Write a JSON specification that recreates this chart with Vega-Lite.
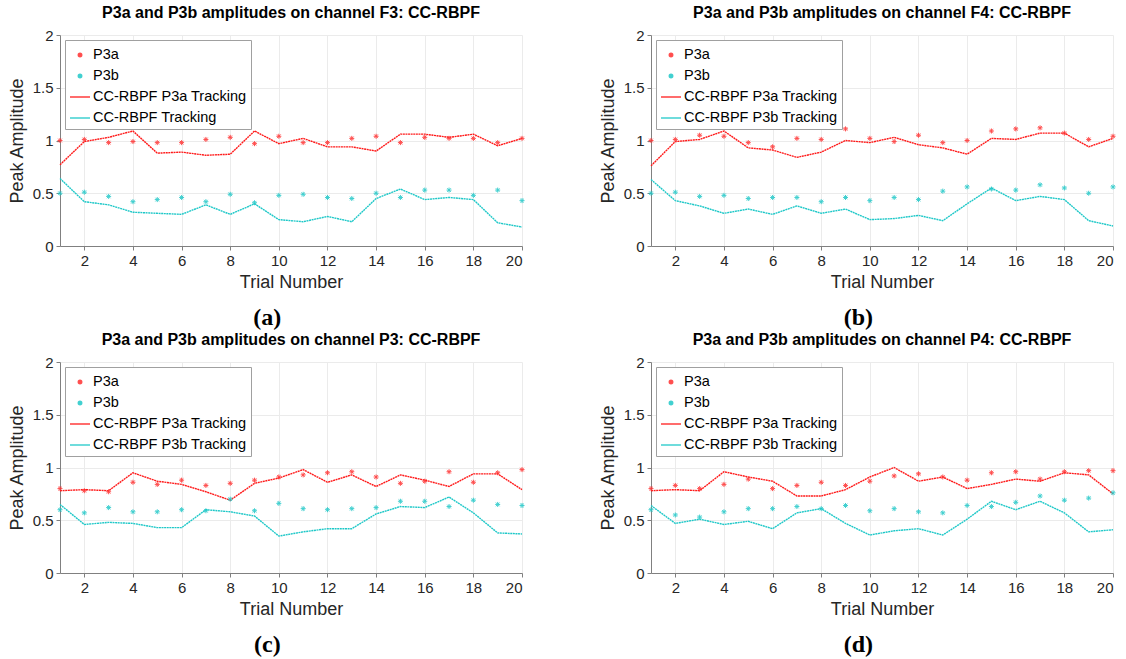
{
  "$schema": "https://vega.github.io/schema/vega-lite/v6.json",
  "background": "white",
  "padding": {"left": 8, "top": 5, "right": 5, "bottom": 5},
  "data": {"values": [
    {"panel":"a","trial":1,"pa":1.00,"pb":0.50,"ta":0.77,"tb":0.64},
    {"panel":"a","trial":2,"pa":1.01,"pb":0.51,"ta":0.99,"tb":0.42},
    {"panel":"a","trial":3,"pa":0.98,"pb":0.47,"ta":1.03,"tb":0.39},
    {"panel":"a","trial":4,"pa":0.99,"pb":0.42,"ta":1.09,"tb":0.32},
    {"panel":"a","trial":5,"pa":0.98,"pb":0.44,"ta":0.88,"tb":0.31},
    {"panel":"a","trial":6,"pa":0.98,"pb":0.46,"ta":0.89,"tb":0.30},
    {"panel":"a","trial":7,"pa":1.01,"pb":0.42,"ta":0.86,"tb":0.39},
    {"panel":"a","trial":8,"pa":1.03,"pb":0.49,"ta":0.87,"tb":0.30},
    {"panel":"a","trial":9,"pa":0.97,"pb":0.41,"ta":1.09,"tb":0.40},
    {"panel":"a","trial":10,"pa":1.04,"pb":0.48,"ta":0.97,"tb":0.25},
    {"panel":"a","trial":11,"pa":0.98,"pb":0.49,"ta":1.02,"tb":0.23},
    {"panel":"a","trial":12,"pa":0.98,"pb":0.46,"ta":0.94,"tb":0.28},
    {"panel":"a","trial":13,"pa":1.02,"pb":0.45,"ta":0.94,"tb":0.23},
    {"panel":"a","trial":14,"pa":1.04,"pb":0.50,"ta":0.90,"tb":0.45},
    {"panel":"a","trial":15,"pa":0.98,"pb":0.46,"ta":1.06,"tb":0.54},
    {"panel":"a","trial":16,"pa":1.03,"pb":0.53,"ta":1.06,"tb":0.44},
    {"panel":"a","trial":17,"pa":1.02,"pb":0.53,"ta":1.03,"tb":0.46},
    {"panel":"a","trial":18,"pa":1.02,"pb":0.48,"ta":1.06,"tb":0.44},
    {"panel":"a","trial":19,"pa":0.98,"pb":0.53,"ta":0.95,"tb":0.22},
    {"panel":"a","trial":20,"pa":1.02,"pb":0.43,"ta":1.02,"tb":0.18},
    {"panel":"b","trial":1,"pa":1.00,"pb":0.50,"ta":0.76,"tb":0.63},
    {"panel":"b","trial":2,"pa":1.01,"pb":0.51,"ta":0.99,"tb":0.43},
    {"panel":"b","trial":3,"pa":1.05,"pb":0.47,"ta":1.01,"tb":0.38},
    {"panel":"b","trial":4,"pa":1.04,"pb":0.48,"ta":1.09,"tb":0.31},
    {"panel":"b","trial":5,"pa":0.98,"pb":0.45,"ta":0.93,"tb":0.35},
    {"panel":"b","trial":6,"pa":0.94,"pb":0.46,"ta":0.91,"tb":0.30},
    {"panel":"b","trial":7,"pa":1.02,"pb":0.46,"ta":0.84,"tb":0.38},
    {"panel":"b","trial":8,"pa":1.01,"pb":0.42,"ta":0.89,"tb":0.31},
    {"panel":"b","trial":9,"pa":1.11,"pb":0.46,"ta":1.00,"tb":0.35},
    {"panel":"b","trial":10,"pa":1.02,"pb":0.43,"ta":0.98,"tb":0.25},
    {"panel":"b","trial":11,"pa":0.99,"pb":0.46,"ta":1.03,"tb":0.26},
    {"panel":"b","trial":12,"pa":1.05,"pb":0.44,"ta":0.96,"tb":0.29},
    {"panel":"b","trial":13,"pa":0.98,"pb":0.52,"ta":0.93,"tb":0.24},
    {"panel":"b","trial":14,"pa":1.00,"pb":0.56,"ta":0.87,"tb":0.40},
    {"panel":"b","trial":15,"pa":1.09,"pb":0.54,"ta":1.02,"tb":0.55},
    {"panel":"b","trial":16,"pa":1.11,"pb":0.53,"ta":1.01,"tb":0.43},
    {"panel":"b","trial":17,"pa":1.12,"pb":0.58,"ta":1.07,"tb":0.47},
    {"panel":"b","trial":18,"pa":1.07,"pb":0.55,"ta":1.07,"tb":0.44},
    {"panel":"b","trial":19,"pa":1.01,"pb":0.50,"ta":0.94,"tb":0.24},
    {"panel":"b","trial":20,"pa":1.04,"pb":0.56,"ta":1.02,"tb":0.19},
    {"panel":"c","trial":1,"pa":0.80,"pb":0.60,"ta":0.78,"tb":0.65},
    {"panel":"c","trial":2,"pa":0.78,"pb":0.57,"ta":0.79,"tb":0.46},
    {"panel":"c","trial":3,"pa":0.77,"pb":0.62,"ta":0.78,"tb":0.48},
    {"panel":"c","trial":4,"pa":0.86,"pb":0.58,"ta":0.95,"tb":0.47},
    {"panel":"c","trial":5,"pa":0.84,"pb":0.58,"ta":0.87,"tb":0.43},
    {"panel":"c","trial":6,"pa":0.88,"pb":0.60,"ta":0.84,"tb":0.43},
    {"panel":"c","trial":7,"pa":0.83,"pb":0.59,"ta":0.77,"tb":0.60},
    {"panel":"c","trial":8,"pa":0.85,"pb":0.70,"ta":0.69,"tb":0.58},
    {"panel":"c","trial":9,"pa":0.88,"pb":0.59,"ta":0.85,"tb":0.54},
    {"panel":"c","trial":10,"pa":0.91,"pb":0.66,"ta":0.90,"tb":0.35},
    {"panel":"c","trial":11,"pa":0.93,"pb":0.61,"ta":0.98,"tb":0.39},
    {"panel":"c","trial":12,"pa":0.95,"pb":0.60,"ta":0.86,"tb":0.42},
    {"panel":"c","trial":13,"pa":0.96,"pb":0.61,"ta":0.93,"tb":0.42},
    {"panel":"c","trial":14,"pa":0.91,"pb":0.62,"ta":0.82,"tb":0.56},
    {"panel":"c","trial":15,"pa":0.85,"pb":0.68,"ta":0.93,"tb":0.63},
    {"panel":"c","trial":16,"pa":0.87,"pb":0.68,"ta":0.88,"tb":0.62},
    {"panel":"c","trial":17,"pa":0.96,"pb":0.63,"ta":0.82,"tb":0.72},
    {"panel":"c","trial":18,"pa":0.86,"pb":0.69,"ta":0.94,"tb":0.57},
    {"panel":"c","trial":19,"pa":0.95,"pb":0.65,"ta":0.94,"tb":0.38},
    {"panel":"c","trial":20,"pa":0.98,"pb":0.64,"ta":0.79,"tb":0.37},
    {"panel":"d","trial":1,"pa":0.80,"pb":0.60,"ta":0.78,"tb":0.64},
    {"panel":"d","trial":2,"pa":0.83,"pb":0.55,"ta":0.79,"tb":0.47},
    {"panel":"d","trial":3,"pa":0.80,"pb":0.53,"ta":0.78,"tb":0.51},
    {"panel":"d","trial":4,"pa":0.84,"pb":0.58,"ta":0.96,"tb":0.46},
    {"panel":"d","trial":5,"pa":0.89,"pb":0.61,"ta":0.91,"tb":0.49},
    {"panel":"d","trial":6,"pa":0.80,"pb":0.61,"ta":0.87,"tb":0.42},
    {"panel":"d","trial":7,"pa":0.83,"pb":0.63,"ta":0.73,"tb":0.57},
    {"panel":"d","trial":8,"pa":0.86,"pb":0.61,"ta":0.73,"tb":0.61},
    {"panel":"d","trial":9,"pa":0.83,"pb":0.64,"ta":0.79,"tb":0.47},
    {"panel":"d","trial":10,"pa":0.87,"pb":0.59,"ta":0.91,"tb":0.36},
    {"panel":"d","trial":11,"pa":0.92,"pb":0.61,"ta":1.00,"tb":0.40},
    {"panel":"d","trial":12,"pa":0.94,"pb":0.58,"ta":0.87,"tb":0.42},
    {"panel":"d","trial":13,"pa":0.91,"pb":0.57,"ta":0.91,"tb":0.36},
    {"panel":"d","trial":14,"pa":0.88,"pb":0.64,"ta":0.80,"tb":0.51},
    {"panel":"d","trial":15,"pa":0.95,"pb":0.63,"ta":0.84,"tb":0.68},
    {"panel":"d","trial":16,"pa":0.96,"pb":0.67,"ta":0.89,"tb":0.60},
    {"panel":"d","trial":17,"pa":0.89,"pb":0.73,"ta":0.87,"tb":0.68},
    {"panel":"d","trial":18,"pa":0.96,"pb":0.69,"ta":0.95,"tb":0.57},
    {"panel":"d","trial":19,"pa":0.97,"pb":0.71,"ta":0.93,"tb":0.39},
    {"panel":"d","trial":20,"pa":0.97,"pb":0.76,"ta":0.75,"tb":0.41}
  ]},
  "spacing": 2,
  "resolve": {"scale": {"color": "independent", "shape": "independent"}, "legend": {"color": "independent", "shape": "independent"}},
  "vconcat": [
    {
      "spacing": 72,
      "resolve": {"scale": {"color": "independent", "shape": "independent"}, "legend": {"color": "independent", "shape": "independent"}},
      "hconcat": [
        {
          "title": {"text": "(a)", "orient": "bottom", "font": "Liberation Serif", "fontSize": 24, "fontWeight": "bold", "color": "black", "offset": 15},
          "vconcat": [{
            "width": 462, "height": 211,
            "title": "P3a and P3b amplitudes on channel F3: CC-RBPF",
            "transform": [{"filter": "datum.panel === 'a'"}, {"fold": ["pa", "pb", "ta", "tb"], "as": ["series", "value"]}],
            "encoding": {
              "x": {"field": "trial", "type": "quantitative", "scale": {"domain": [1, 20], "nice": false, "zero": false}, "axis": {"values": [2,4,6,8,10,12,14,16,18,20], "title": "Trial Number"}},
              "y": {"field": "value", "type": "quantitative", "scale": {"domain": [0, 2], "nice": false}, "axis": {"values": [0,0.5,1,1.5,2], "format": "~g", "title": "Peak Amplitude"}},
              "color": {"field": "series", "type": "nominal", "scale": {"domain": ["pa","pb","ta","tb"], "range": ["#ff3030","#20c8c8","#ff1a1a","#1ec8c8"]},
                "legend": {"labelExpr": "({'pa':'P3a','pb':'P3b','ta':'CC-RBPF P3a Tracking','tb':'CC-RBPF Tracking'})[datum.label]"}}
            },
            "layer": [
              {"transform": [{"filter": "datum.series === 'ta' || datum.series === 'tb'"}], "mark": {"type": "line", "strokeWidth": 1.4, "strokeDash": [2, 0.6]}},
              {"transform": [{"filter": "datum.series === 'pa' || datum.series === 'pb'"}], "mark": {"type": "point", "filled": false, "size": 400, "strokeWidth": 1, "opacity": 0.85},
                "encoding": {"shape": {"field": "series", "type": "nominal", "scale": {"domain": ["pa","pb","ta","tb"], "range": ["M-0.25,0L0.25,0M0,-0.25L0,0.25M-0.18,-0.18L0.18,0.18M-0.18,0.18L0.18,-0.18","M-0.25,0L0.25,0M0,-0.25L0,0.25M-0.18,-0.18L0.18,0.18M-0.18,0.18L0.18,-0.18","stroke","stroke"]}}}}
            ]
          }]
        },
        {
          "title": {"text": "(b)", "orient": "bottom", "font": "Liberation Serif", "fontSize": 24, "fontWeight": "bold", "color": "black", "offset": 15},
          "vconcat": [{
            "width": 462, "height": 211,
            "title": "P3a and P3b amplitudes on channel F4: CC-RBPF",
            "transform": [{"filter": "datum.panel === 'b'"}, {"fold": ["pa", "pb", "ta", "tb"], "as": ["series", "value"]}],
            "encoding": {
              "x": {"field": "trial", "type": "quantitative", "scale": {"domain": [1, 20], "nice": false, "zero": false}, "axis": {"values": [2,4,6,8,10,12,14,16,18,20], "title": "Trial Number"}},
              "y": {"field": "value", "type": "quantitative", "scale": {"domain": [0, 2], "nice": false}, "axis": {"values": [0,0.5,1,1.5,2], "format": "~g", "title": "Peak Amplitude"}},
              "color": {"field": "series", "type": "nominal", "scale": {"domain": ["pa","pb","ta","tb"], "range": ["#ff3030","#20c8c8","#ff1a1a","#1ec8c8"]},
                "legend": {"labelExpr": "({'pa':'P3a','pb':'P3b','ta':'CC-RBPF P3a Tracking','tb':'CC-RBPF P3b Tracking'})[datum.label]"}}
            },
            "layer": [
              {"transform": [{"filter": "datum.series === 'ta' || datum.series === 'tb'"}], "mark": {"type": "line", "strokeWidth": 1.4, "strokeDash": [2, 0.6]}},
              {"transform": [{"filter": "datum.series === 'pa' || datum.series === 'pb'"}], "mark": {"type": "point", "filled": false, "size": 400, "strokeWidth": 1, "opacity": 0.85},
                "encoding": {"shape": {"field": "series", "type": "nominal", "scale": {"domain": ["pa","pb","ta","tb"], "range": ["M-0.25,0L0.25,0M0,-0.25L0,0.25M-0.18,-0.18L0.18,0.18M-0.18,0.18L0.18,-0.18","M-0.25,0L0.25,0M0,-0.25L0,0.25M-0.18,-0.18L0.18,0.18M-0.18,0.18L0.18,-0.18","stroke","stroke"]}}}}
            ]
          }]
        }
      ]
    },
    {
      "spacing": 72,
      "resolve": {"scale": {"color": "independent", "shape": "independent"}, "legend": {"color": "independent", "shape": "independent"}},
      "hconcat": [
        {
          "title": {"text": "(c)", "orient": "bottom", "font": "Liberation Serif", "fontSize": 24, "fontWeight": "bold", "color": "black", "offset": 15},
          "vconcat": [{
            "width": 462, "height": 211,
            "title": "P3a and P3b amplitudes on channel P3: CC-RBPF",
            "transform": [{"filter": "datum.panel === 'c'"}, {"fold": ["pa", "pb", "ta", "tb"], "as": ["series", "value"]}],
            "encoding": {
              "x": {"field": "trial", "type": "quantitative", "scale": {"domain": [1, 20], "nice": false, "zero": false}, "axis": {"values": [2,4,6,8,10,12,14,16,18,20], "title": "Trial Number"}},
              "y": {"field": "value", "type": "quantitative", "scale": {"domain": [0, 2], "nice": false}, "axis": {"values": [0,0.5,1,1.5,2], "format": "~g", "title": "Peak Amplitude"}},
              "color": {"field": "series", "type": "nominal", "scale": {"domain": ["pa","pb","ta","tb"], "range": ["#ff3030","#20c8c8","#ff1a1a","#1ec8c8"]},
                "legend": {"labelExpr": "({'pa':'P3a','pb':'P3b','ta':'CC-RBPF P3a Tracking','tb':'CC-RBPF P3b Tracking'})[datum.label]"}}
            },
            "layer": [
              {"transform": [{"filter": "datum.series === 'ta' || datum.series === 'tb'"}], "mark": {"type": "line", "strokeWidth": 1.4, "strokeDash": [2, 0.6]}},
              {"transform": [{"filter": "datum.series === 'pa' || datum.series === 'pb'"}], "mark": {"type": "point", "filled": false, "size": 400, "strokeWidth": 1, "opacity": 0.85},
                "encoding": {"shape": {"field": "series", "type": "nominal", "scale": {"domain": ["pa","pb","ta","tb"], "range": ["M-0.25,0L0.25,0M0,-0.25L0,0.25M-0.18,-0.18L0.18,0.18M-0.18,0.18L0.18,-0.18","M-0.25,0L0.25,0M0,-0.25L0,0.25M-0.18,-0.18L0.18,0.18M-0.18,0.18L0.18,-0.18","stroke","stroke"]}}}}
            ]
          }]
        },
        {
          "title": {"text": "(d)", "orient": "bottom", "font": "Liberation Serif", "fontSize": 24, "fontWeight": "bold", "color": "black", "offset": 15},
          "vconcat": [{
            "width": 462, "height": 211,
            "title": "P3a and P3b amplitudes on channel P4: CC-RBPF",
            "transform": [{"filter": "datum.panel === 'd'"}, {"fold": ["pa", "pb", "ta", "tb"], "as": ["series", "value"]}],
            "encoding": {
              "x": {"field": "trial", "type": "quantitative", "scale": {"domain": [1, 20], "nice": false, "zero": false}, "axis": {"values": [2,4,6,8,10,12,14,16,18,20], "title": "Trial Number"}},
              "y": {"field": "value", "type": "quantitative", "scale": {"domain": [0, 2], "nice": false}, "axis": {"values": [0,0.5,1,1.5,2], "format": "~g", "title": "Peak Amplitude"}},
              "color": {"field": "series", "type": "nominal", "scale": {"domain": ["pa","pb","ta","tb"], "range": ["#ff3030","#20c8c8","#ff1a1a","#1ec8c8"]},
                "legend": {"labelExpr": "({'pa':'P3a','pb':'P3b','ta':'CC-RBPF P3a Tracking','tb':'CC-RBPF P3b Tracking'})[datum.label]"}}
            },
            "layer": [
              {"transform": [{"filter": "datum.series === 'ta' || datum.series === 'tb'"}], "mark": {"type": "line", "strokeWidth": 1.4, "strokeDash": [2, 0.6]}},
              {"transform": [{"filter": "datum.series === 'pa' || datum.series === 'pb'"}], "mark": {"type": "point", "filled": false, "size": 400, "strokeWidth": 1, "opacity": 0.85},
                "encoding": {"shape": {"field": "series", "type": "nominal", "scale": {"domain": ["pa","pb","ta","tb"], "range": ["M-0.25,0L0.25,0M0,-0.25L0,0.25M-0.18,-0.18L0.18,0.18M-0.18,0.18L0.18,-0.18","M-0.25,0L0.25,0M0,-0.25L0,0.25M-0.18,-0.18L0.18,0.18M-0.18,0.18L0.18,-0.18","stroke","stroke"]}}}}
            ]
          }]
        }
      ]
    }
  ],
  "config": {
    "font": "Liberation Sans",
    "view": {"stroke": null},
    "title": {"fontSize": 16, "fontWeight": "bold", "color": "black", "offset": 7, "anchor": "middle"},
    "axis": {
      "labelFontSize": 15, "labelColor": "#262626", "titleFontSize": 18, "titleFontWeight": "normal", "titleColor": "#262626",
      "domainColor": "#808080", "tickColor": "#808080", "tickSize": 4, "gridColor": "#ebebeb", "grid": true, "labelPadding": 3, "titlePadding": 5
    },
    "axisY": {"titlePadding": 6},
    "legend": {
      "title": null, "orient": "top-left", "offset": 5, "fillColor": "white", "strokeColor": "#a0a0a0", "padding": 4,
      "labelFontSize": 14.5, "labelColor": "black", "symbolSize": 400, "symbolStrokeWidth": 1.5, "rowPadding": 3, "labelOffset": 2
    }
  }
}
